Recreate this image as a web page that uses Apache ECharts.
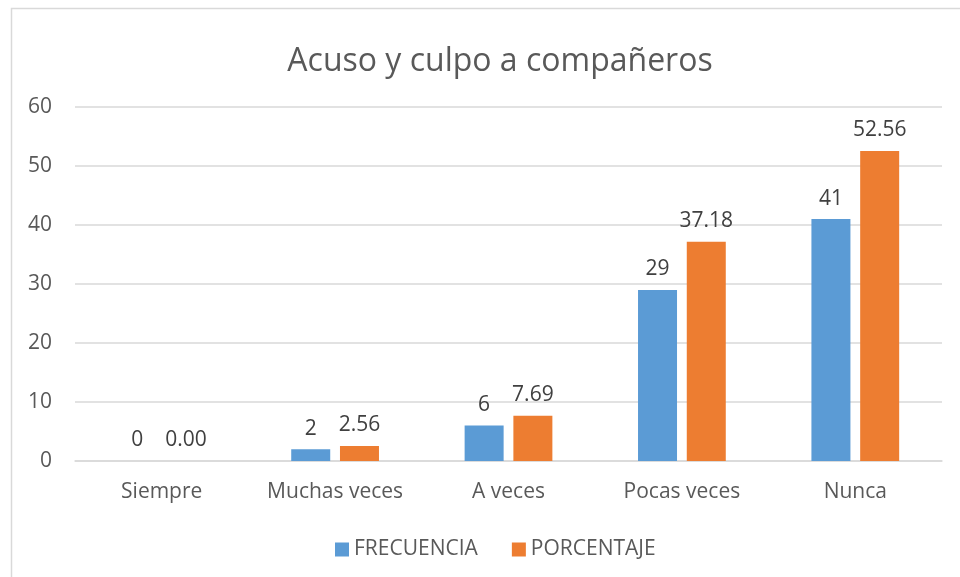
<!DOCTYPE html>
<html>
<head>
<meta charset="utf-8">
<style>
  html, body { margin: 0; padding: 0; background: #fff; }
  #chart { width: 960px; height: 577px; }
</style>
<script src="https://cdn.jsdelivr.net/npm/echarts@6/dist/echarts.min.js"></script>
</head>
<body>
<div id="chart"></div>
<script>
// datos del gráfico
const categorias = ["Siempre", "Muchas veces", "A veces", "Pocas veces", "Nunca"];
const frecuencia = [0, 2, 6, 29, 41];
const porcentaje = [0.00, 2.56, 7.69, 37.18, 52.56];
const seriesNames = ["FRECUENCIA", "PORCENTAJE"];

(function () {
    const myChart = echarts.init(document.getElementById("chart"));
    const fontFam = "'Open Sans', 'Noto Sans', sans-serif";
    const labelStyle = {
        show: true,
        position: "top",
        distance: 10,
        color: "#404040",
        fontSize: 21,
        fontFamily: fontFam
    };
    const option = {
        animation: false,
        color: ["#5b9bd5", "#ed7d31"],
        textStyle: { fontFamily: fontFam },
        title: {
            text: "Acuso y culpo a compañeros",
            left: 495,
            top: 41,
            textAlign: "center",
            textStyle: { color: "#595959", fontSize: 32, fontWeight: "normal", fontFamily: fontFam }
        },
        graphic: [{
            type: "rect",
            shape: { x: 11.5, y: 8.5, width: 980, height: 600 },
            style: { fill: "none", stroke: "#d9d9d9", lineWidth: 1.5 },
            silent: true
        }],
        legend: {
            data: seriesNames,
            top: 534,
            left: 330,
            itemWidth: 14,
            itemHeight: 14,
            itemGap: 34,
            icon: "rect",
            textStyle: { color: "#595959", fontSize: 21, fontFamily: fontFam }
        },
        grid: { left: 75, right: 18, top: 107, bottom: 116 },
        xAxis: {
            type: "category",
            data: categorias,
            axisTick: { show: false },
            axisLine: { lineStyle: { color: "#d9d9d9", width: 1.5 } },
            axisLabel: { color: "#595959", fontSize: 21, margin: 21, interval: 0, fontFamily: fontFam }
        },
        yAxis: {
            type: "value",
            min: 0,
            max: 60,
            interval: 10,
            axisLine: { show: false },
            axisTick: { show: false },
            axisLabel: { color: "#595959", fontSize: 21, margin: 23, fontFamily: fontFam },
            splitLine: { lineStyle: { color: "#d9d9d9", width: 1.5 } }
        },
        series: [
            {
                name: seriesNames[0],
                type: "bar",
                data: frecuencia,
                barWidth: 39,
                barGap: "25%",
                label: labelStyle
            },
            {
                name: seriesNames[1],
                type: "bar",
                data: porcentaje,
                barWidth: 39,
                barGap: "25%",
                label: Object.assign({}, labelStyle, {
                    formatter: function (p) { return p.value.toFixed(2); }
                })
            }
        ]
    };
    myChart.setOption(option);
    window.addEventListener("resize", function () {
        myChart.resize();
    });
})();
</script>
</body>
</html>
